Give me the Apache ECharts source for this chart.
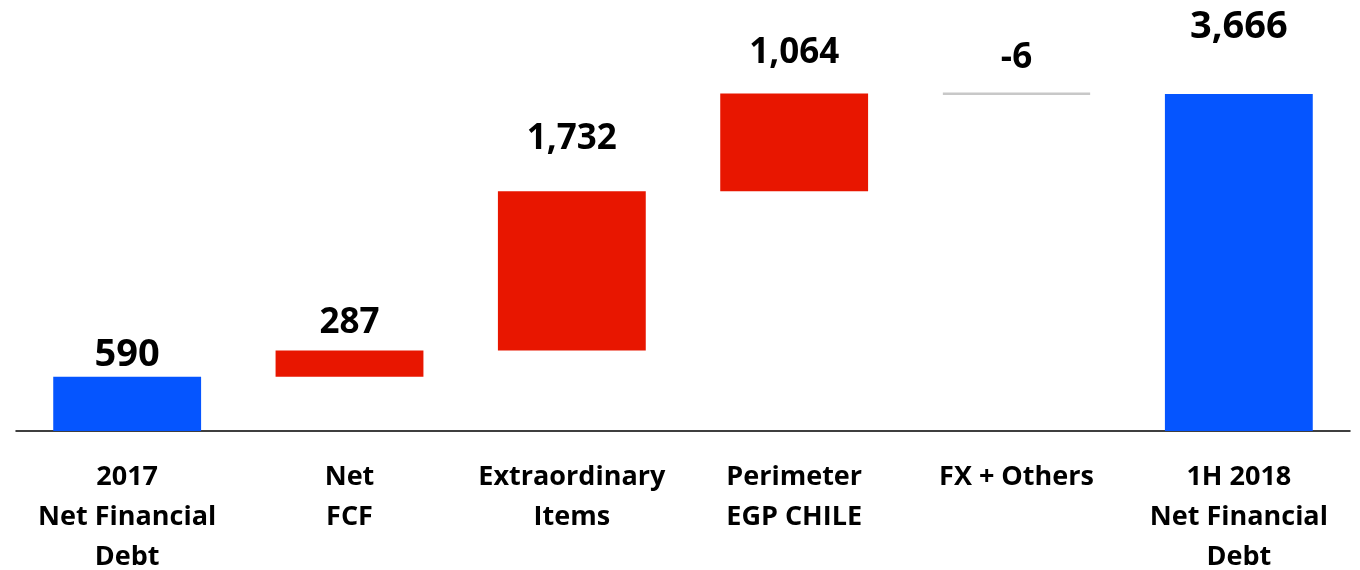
<!DOCTYPE html>
<html>
<head>
<meta charset="utf-8">
<script src="https://cdn.jsdelivr.net/npm/echarts@6/dist/echarts.min.js"></script>
<style>
html,body{margin:0;padding:0;background:#fff;}
#chart{width:1360px;height:570px;}
</style>
</head>
<body>
<div id="chart"></div>
<script>
const categories = ["2017\nNet Financial\nDebt", "Net\nFCF", "Extraordinary\nItems", "Perimeter\nEGP CHILE", "FX + Others", "1H 2018\nNet Financial\nDebt"];
const changes = [590, 287, 1732, 1064, -6, 3666];
const kinds = ["total", "delta", "delta", "delta", "delta", "total"];
const valueLabels = ["590", "287", "1,732", "1,064", "-6", "3,666"];

// build waterfall base / visible parts
const base = [], visible = [];
let running = 0;
changes.forEach((v, i) => {
  if (kinds[i] === "total") {
    base.push(0); visible.push(v); running = v;
  } else if (v >= 0) {
    base.push(running); visible.push(v); running += v;
  } else {
    running += v; base.push(running); visible.push(-v);
  }
});

const colorFor = (i) => {
  if (kinds[i] === "total") return "#0555FF";
  return changes[i] >= 0 ? "#E81600" : "#C8C8C8";
};
const labelGap = [3, 10, 35, 23, 17, 48];
const bigLabel = [true, false, false, false, false, true];

const chart = echarts.init(document.getElementById('chart'));
chart.setOption({
  animation: false,
  grid: { left: 16, right: 10, top: 0, bottom: 139, outerBoundsMode: 'none', containLabel: false },
  xAxis: {
    type: 'category',
    data: categories,
    axisLine: { lineStyle: { color: '#000', width: 1.5 } },
    axisTick: { show: false },
    axisLabel: {
      interval: 0, color: '#000', fontFamily: 'Open Sans', fontWeight: 'bold',
      fontSize: 27, lineHeight: 40, margin: 26
    }
  },
  yAxis: { type: 'value', min: 0, max: 4690, show: false, splitLine: { show: false } },
  series: [
    {
      type: 'bar', stack: 'w', data: base, barWidth: '66.5%',
      itemStyle: { color: 'transparent' }, silent: true
    },
    {
      type: 'bar', stack: 'w', barWidth: '66.5%',
      data: visible.map((v, i) => ({
        value: v,
        itemStyle: changes[i] < 0
          ? { color: colorFor(i), borderColor: colorFor(i), borderWidth: 2.5 }
          : { color: colorFor(i) },
        label: {
          show: true, position: 'top', distance: labelGap[i],
          formatter: valueLabels[i],
          fontFamily: 'Open Sans', fontWeight: 'bold', color: '#000',
          fontSize: bigLabel[i] ? 38 : 35, lineHeight: bigLabel[i] ? 38 : 35
        }
      }))
    }
  ]
});
</script>
</body>
</html>
